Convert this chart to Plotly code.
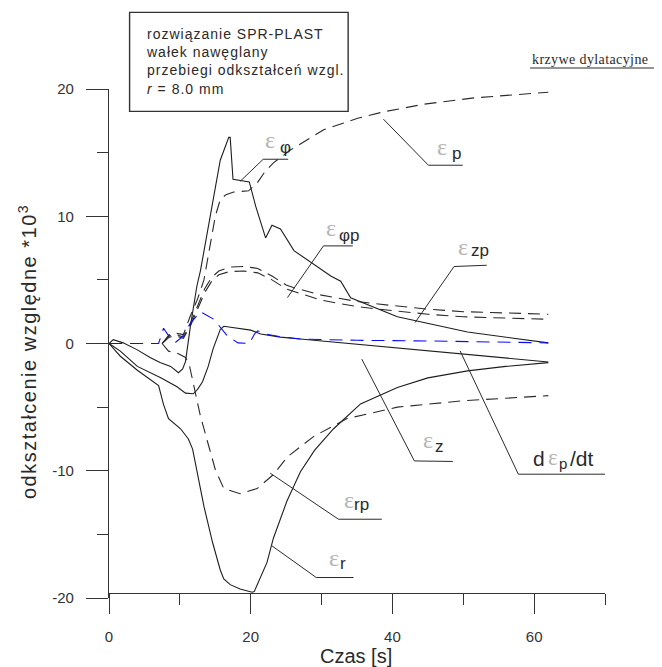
import plotly.graph_objects as go

# ---------------- data ----------------
# total strains (solid lines)
t_eps_phi = [0, 0.6, 2, 4, 5.8, 7.2, 8.7, 9.8, 10.4, 10.8, 11.5, 12.4, 12.9, 14.3, 15.7, 16.9,
             17.1, 17.5, 18.5, 19.8, 20.7, 22.1, 23.0, 24.2, 26.1, 28.9, 31.3, 32.7, 34.1, 40.7, 50.6, 62]
eps_phi = [0, 0.3, 0.05, -0.5, -1.1, -1.5, -1.8, -2.3, -2.0, -1.4, 1.4, 4.5, 5.7, 10.0, 14.4, 16.2,
           16.2, 12.9, 12.8, 12.7, 10.8, 8.3, 9.3, 9.0, 7.3, 6.2, 5.3, 4.9, 3.6, 2.1, 0.9, 0.05]

t_eps_z = [0, 1.6, 4, 7.3, 9.6, 10.8, 11.9, 12.5, 13.2, 14.0, 14.7, 15.7, 16.2, 17.5, 20, 21.4, 24.2, 27, 62]
eps_z = [0, -0.6, -1.8, -2.7, -3.4, -3.9, -3.95, -3.6, -3.0, -1.8, -0.4, 1.1, 1.35, 1.25, 1.05, 0.75, 0.5, 0.35, -1.45]

t_eps_r = [0, 1.6, 4, 7.0, 7.7, 8.4, 10.1, 11.2, 11.8, 12.5, 13.4, 14.6, 15.7, 16.2, 17.1, 18.5, 19.5,
           20.2, 20.5, 21.3, 22.3, 23.2, 25.1, 27, 29, 31.7, 35.5, 40.7, 45, 50.6, 56, 62]
eps_r = [0, -1.0, -2.1, -3.3, -4.8, -5.9, -6.7, -7.5, -8.3, -10.4, -12.8, -15.6, -17.8, -18.5, -18.95, -19.3, -19.45,
         -19.55, -19.5, -18.5, -17.2, -15.3, -12.4, -10.1, -8.4, -6.7, -4.75, -3.45, -2.7, -2.15, -1.8, -1.5]

# plastic strains (dashed lines)
t_eps_p = [7.5, 8.5, 9.5, 10.5, 11.5, 12.5, 13.4, 14.3, 15.0, 15.7, 16.5, 17.6, 19.7, 20.9, 22.0, 23.2,
           25.6, 30.3, 35.1, 38.7, 44.4, 51.5, 62]
eps_p = [0, 0.7, 0.8, 0.7, 2.2, 3.5, 5.0, 7.9, 10.0, 11.3, 11.7, 11.9, 12.0, 12.6, 13.5, 14.2,
         15.2, 16.8, 17.7, 18.2, 18.8, 19.3, 19.75]

t_eps_phip = [7.5, 8.5, 9.5, 10.5, 11.5, 12.5, 13.5, 14.5, 15.5, 17, 19, 21, 23, 25, 26, 30, 35, 38, 45, 50, 55, 62]
eps_phip = [0, 0.6, 0.7, 0.5, 1.6, 3.0, 4.3, 5.2, 5.7, 6.0, 6.05, 5.9, 5.3, 4.6, 4.4, 3.8, 3.3, 3.1, 2.7, 2.5, 2.4, 2.3]

t_eps_zp = [7.5, 8.5, 9.5, 10.5, 11.5, 12.5, 13.5, 14.5, 15.5, 17, 19, 21, 23, 25, 26, 30, 35, 38, 45, 50, 55, 62]
eps_zp = [0, 0.5, 0.6, 0.4, 1.4, 2.7, 4.0, 4.9, 5.4, 5.65, 5.7, 5.55, 5.0, 4.3, 4.1, 3.4, 2.9, 2.7, 2.3, 2.1, 2.0, 1.9]

t_eps_rp = [7.5, 8.4, 9.8, 10.8, 11.3, 12.0, 12.9, 13.9, 15.0, 16.2, 18.5, 20.9, 23.2, 25.2, 28.9, 33.6, 40.7, 50, 62]
eps_rp = [0, -0.6, -0.8, -1.1, -1.6, -3.3, -5.7, -7.7, -9.9, -11.4, -11.8, -11.4, -10.3, -8.9, -7.3, -5.9, -5.0, -4.5, -4.1]

# plastic strain rate (blue dashed)
t_deps_p = [0, 7.0, 7.7, 8.3, 9.4, 10.3, 11.5, 12.9, 14.8, 16.7, 18.2, 19.8, 20.6, 21.0, 22.0, 24.0, 27.0, 35, 45, 55, 62]
deps_p = [0, 0, 1.2, 0.7, 0.1, 0.5, 1.6, 2.5, 1.9, 0.6, 0.05, 0.0, 0.8, 1.0, 0.75, 0.55, 0.35, 0.25, 0.2, 0.1, 0.05]

# axes
x_major = [0, 20, 40, 60]
x_major_text = ["0", "20", "40", "60"]
y_major = [-20, -10, 0, 10, 20]
y_major_text = ["-20", "-10", "0", "10", "20"]

# curve labels: subscript, eps-position, subscript-position, leader polyline (data coords)
label_sub = ["φ", "p", "φp", "zp", "z", "rp", "r"]
label_eps_pos = [(22.75, 15.86), (46.97, 15.33), (31.35, 8.98), (50.01, 7.49), (45.08, -7.72), (33.9, -12.43), (31.78, -17.01)]
label_sub_pos = [(24.9, 15.27), (49.08, 14.8), (33.9, 8.35), (52.37, 7.17), (46.59, -8.23), (35.7, -12.79), (33.05, -17.37)]
label_leader = [
    [(18.52, 12.75), (21.76, 14.48), (25.29, 14.48)],
    [(38.73, 17.63), (45.08, 14.01), (49.93, 14.01)],
    [(25.19, 3.61), (30.27, 7.67), (34.41, 7.67)],
    [(43.2, 1.65), (48.7, 6.05), (53.31, 6.15)],
    [(35.68, -1.23), (43.1, -9.23), (48.52, -9.27)],
    [(22.75, -10.19), (32.38, -13.81), (38.5, -13.81)],
    [(22.99, -15.9), (29.25, -18.39), (34.51, -18.39)],
]
rate_leader = [(49.55, -0.58), (57.77, -10.27), (70.0, -10.27)]

info_lines = ["rozwiązanie SPR-PLAST", "wałek nawęglany", "przebiegi odkształceń wzgl.", "<i>r</i> = 8.0 mm"]

# ---------------- layout geometry (pixels of the 662x667 page) ----------------
W, H = 662, 667
OFF = 8                      # default body margin of the html page
ML, MR, MT, MB = 108.7, 57.0, 89.3, 68.7
PW, PH = W - ML - MR, H - MT - MB


def pp(px, py):
    """page pixel -> paper coordinates"""
    return (px - ML) / PW, (H - MB - py) / PH


INK = "#2a2a2a"
GREY_EPS = "#b4b4b4"
FONT = "Liberation Sans"

fig = go.Figure()

solid = dict(color="#1e1e1e", width=1.1)
dashed = dict(color="#2a2a2a", width=1.1, dash="12px,7px")
for tx, ty in [(t_eps_phi, eps_phi), (t_eps_z, eps_z), (t_eps_r, eps_r)]:
    fig.add_trace(go.Scatter(x=tx, y=ty, mode="lines", line=solid, hoverinfo="skip"))
for tx, ty in [(t_eps_p, eps_p), (t_eps_phip, eps_phip), (t_eps_zp, eps_zp), (t_eps_rp, eps_rp)]:
    fig.add_trace(go.Scatter(x=tx, y=ty, mode="lines", line=dashed, hoverinfo="skip"))
fig.add_trace(go.Scatter(x=t_deps_p, y=deps_p, mode="lines",
                         line=dict(color="#0a0aff", width=1.1, dash="13px,8px"), hoverinfo="skip"))

shapes = []
annotations = []


def leader_path(pts):
    return "M " + " L ".join(f"{x},{y}" for x, y in pts)


for sub, ep, sp, ld in zip(label_sub, label_eps_pos, label_sub_pos, label_leader):
    shapes.append(dict(type="path", xref="x", yref="y", path=leader_path(ld),
                       line=dict(color=INK, width=1)))
    annotations.append(dict(x=ep[0], y=ep[1], xref="x", yref="y", text="ε", showarrow=False,
                            xanchor="center", yanchor="middle", yshift=1.5,
                            font=dict(family="Liberation Serif", size=24, color=GREY_EPS)))
    annotations.append(dict(x=sp[0], y=sp[1], xref="x", yref="y", text=sub, showarrow=False,
                            xanchor="center", yanchor="middle", yshift=1.5,
                            font=dict(family=FONT, size=17, color=INK)))

# d eps_p / dt label
shapes.append(dict(type="path", xref="x", yref="y", path=leader_path(rate_leader),
                   line=dict(color=INK, width=1)))
for txt, xx, yy, fam, size, col in [("d", 60.72, -9.05, FONT, 21, INK),
                                    ("ε", 62.6, -8.95, "Liberation Serif", 23, GREY_EPS),
                                    ("p", 64.12, -9.45, FONT, 15, INK),
                                    ("/dt", 66.69, -9.05, FONT, 21, INK)]:
    annotations.append(dict(x=xx, y=yy, xref="x", yref="y", text=txt, showarrow=False,
                            xanchor="center", yanchor="middle",
                            font=dict(family=fam, size=size, color=col)))

# info box
x0, y0 = pp(129.3, 111.7)
x1, y1 = pp(348.0, 12.7)
shapes.append(dict(type="rect", xref="paper", yref="paper", x0=x0, y0=y0, x1=x1, y1=y1,
                   line=dict(color="#333333", width=1.4), fillcolor="rgba(0,0,0,0)"))
bx, by = pp(143.3, 62.0)
annotations.append(dict(x=bx, y=by, xref="paper", yref="paper", showarrow=False,
                        xanchor="left", yanchor="middle", align="left",
                        text="<br>".join(f"<span style='letter-spacing:1px'>{s}</span>" for s in info_lines),
                        font=dict(family=FONT, size=14, color=INK)))

# "krzywe dylatacyjne" underlined note
kx, ky = pp(530, 60.0)
annotations.append(dict(x=kx, y=ky, xref="paper", yref="paper", showarrow=False,
                        xanchor="left", yanchor="middle",
                        text="<span style='letter-spacing:0.4px'>krzywe dylatacyjne</span>",
                        font=dict(family="Liberation Serif", size=14, color=INK)))
ux0, uy = pp(530, 68.3)
ux1, _ = pp(657, 68.3)
shapes.append(dict(type="line", xref="paper", yref="paper", x0=ux0, x1=ux1, y0=uy, y1=uy,
                   line=dict(color=INK, width=1)))

# axis titles
tx_, ty_ = pp(356.0, 656.7)
annotations.append(dict(x=tx_, y=ty_, xref="paper", yref="paper", showarrow=False,
                        xanchor="center", yanchor="middle", text="Czas [s]",
                        font=dict(family=FONT, size=20, color=INK)))
yx_, yy_ = pp(27.0, 352.0)
annotations.append(dict(x=yx_, y=yy_, xref="paper", yref="paper", showarrow=False,
                        xanchor="center", yanchor="middle", textangle=-90,
                        text="<span style='letter-spacing:1.5px'>odkształcenie względne *10<sup>3</sup></span>",
                        font=dict(family=FONT, size=20, color=INK)))

_, xpos = pp(0, 593.0)

fig.update_layout(
    width=W - OFF, height=H - OFF,
    margin=dict(l=ML - OFF, r=MR, t=MT - OFF, b=MB, autoexpand=False),
    paper_bgcolor="white", plot_bgcolor="white", showlegend=False,
    shapes=shapes, annotations=annotations,
    xaxis=dict(range=[0, 70], anchor="free", position=xpos, showline=True, linecolor="#333333",
               linewidth=1.3, ticks="outside", ticklen=20, tickwidth=1.3, tickcolor="#333333",
               tickvals=x_major, ticktext=x_major_text, showgrid=False, zeroline=False,
               minor=dict(dtick=10, tick0=0, ticks="outside", ticklen=11, tickwidth=1.3,
                          tickcolor="#333333", showgrid=False),
               tickfont=dict(family=FONT, size=15, color="#333333"), ticklabelstandoff=10),
    yaxis=dict(range=[-20, 20], showline=True, linecolor="#333333", linewidth=1.3,
               ticks="outside", ticklen=22, tickwidth=1.3, tickcolor="#333333",
               tickvals=y_major, ticktext=y_major_text, showgrid=False, zeroline=False,
               minor=dict(dtick=5, tick0=0, ticks="outside", ticklen=11, tickwidth=1.3,
                          tickcolor="#333333", showgrid=False),
               tickfont=dict(family=FONT, size=15, color="#333333"), ticklabelstandoff=9),
)

fig.write_html("out.html")
